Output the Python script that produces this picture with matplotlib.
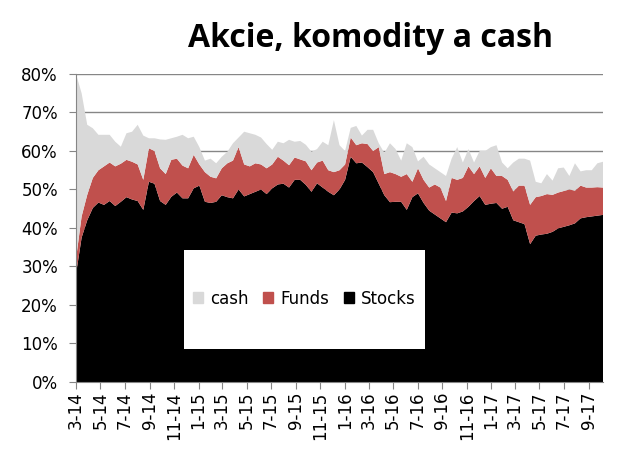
import numpy as np
import pandas as pd
import matplotlib
matplotlib.use("Agg")
import matplotlib.pyplot as plt
import matplotlib.dates as mdates
from matplotlib.patches import Rectangle, Patch
from matplotlib.ticker import FuncFormatter, MultipleLocator

# biweekly observations starting March 2014
dates = pd.date_range("2014-03-01", periods=95, freq="14D")

# upper edge of each band (%)
stocks_top = [28, 37.5, 42, 45.2, 46.6, 46, 47, 45.7, 46.8, 48, 47.4, 47, 44.7, 52, 51.5, 47, 46,
              48.1, 49.2, 47.7, 47.7, 50.3, 51, 46.8, 46.5, 46.8, 48.5, 48, 47.7, 50, 48.2, 48.8, 49.4,
              50, 48.8, 50.3, 51.3, 51.5, 50.5, 52.5, 52.5, 51.2, 49.4, 51.6, 50.5, 49.4, 48.5, 50, 52.5,
              58.5, 56.8, 57, 55.8, 54.5, 51.5, 48.5, 46.7, 46.8, 46.8, 44.7, 48, 49, 46.5, 44.5, 43.5,
              42.5, 41.5, 44, 43.8, 44.3, 45.5, 47, 48.3, 46, 46.3, 46.5, 45, 45.5, 42, 41.5, 41,
              35.8, 38, 38.3, 38.5, 39, 39.9, 40.3, 40.7, 41.2, 42.5, 42.8, 43, 43.2, 43.4]
funds_top = [32, 43, 48.6, 53, 55, 56, 57, 56, 56.7, 57.7, 57.2, 56.5, 52.5, 60.7, 60, 55.5, 54,
             57.7, 58, 56.2, 55.5, 59, 56.5, 54.5, 53.3, 52.9, 55.5, 56.8, 57.5, 61, 56.5, 56, 56.8,
             56.5, 55.5, 56.5, 58.5, 57.5, 56.3, 58.3, 57.8, 57.3, 55, 57, 57.5, 55, 54.5, 55, 56.5,
             63.5, 61.5, 62, 61.8, 60, 61, 54, 54.5, 54, 53.3, 54, 52, 55.5, 52.5, 50.5, 51.3,
             50.5, 47, 53, 52.5, 53, 56, 54, 56, 53, 55.5, 53.5, 53.5, 52.5, 49.5, 51, 51,
             46, 48, 48.3, 48.8, 48.6, 49.2, 49.6, 50, 49.7, 51, 50.5, 50.5, 50.6, 50.5]
cash_top = [80, 75, 66.8, 65.9, 64.2, 64.2, 64.2, 62.4, 61.1, 64.6, 65, 66.8, 64, 63.3, 63.3, 63, 62.9,
            63.3, 63.7, 64.2, 63.3, 63.7, 61, 57.5, 58, 56.8, 58.5, 59.8, 62, 63.5, 65, 64.6, 64.2,
            63.5, 61.8, 60.3, 62.4, 62, 62.9, 62.4, 62.6, 61.6, 59.8, 60.5, 62.4, 61.5, 68, 61.5, 60,
            66, 66.5, 64, 65.5, 65.5, 62, 59.5, 62, 60.5, 57.5, 62, 61, 57.3, 58.5, 56.5, 55.5,
            54.5, 53.5, 58, 61, 57, 60.5, 57, 60, 60, 61, 61.5, 57, 55.5, 57, 58, 58,
            57.5, 52, 51.6, 54, 52.3, 55.5, 55.7, 53.5, 56.8, 54.7, 55, 55, 56.8, 57.2]

stocks = np.array(stocks_top)
funds = np.array(funds_top) - stocks
cash = np.array(cash_top) - np.array(funds_top)

labels = ["Stocks", "Funds", "cash"]
colors = ["#000000", "#C0504D", "#D9D9D9"]
grid_c = "#868686"

fig = plt.figure(figsize=(6.34, 4.51), dpi=100)
ax = fig.add_axes([0.1199, 0.153, 0.8312, 0.683])

ax.stackplot(dates, stocks, funds, cash, colors=colors, linewidth=0, labels=labels)

ax.set_xlim(dates[0], dates[-1])
ax.set_ylim(0, 80)
ax.yaxis.set_major_locator(MultipleLocator(10))
ax.yaxis.set_major_formatter(FuncFormatter(lambda v, p: f"{v:.0f}%"))
ax.xaxis.set_major_locator(mdates.MonthLocator(bymonth=[1, 3, 5, 7, 9, 11]))
ax.xaxis.set_major_formatter(FuncFormatter(
    lambda v, p: f"{mdates.num2date(v).month}-{mdates.num2date(v).strftime('%y')}"))

ax.set_axisbelow(True)
ax.grid(axis="y", color=grid_c, linewidth=1)
for s in ["top", "right"]:
    ax.spines[s].set_visible(False)
for s in ["left", "bottom"]:
    ax.spines[s].set_color(grid_c)
ax.tick_params(axis="both", colors=grid_c, length=5, labelcolor="black")
ax.tick_params(axis="y", labelsize=12, pad=8)
ax.tick_params(axis="x", labelsize=12, labelrotation=90, pad=2)

# white legend box
ax.add_patch(Rectangle((0.205, 0.107), 0.457, 0.322, transform=ax.transAxes,
                       facecolor="white", edgecolor="none", zorder=5))
handles = [Patch(color=colors[2]), Patch(color=colors[1]), Patch(color=colors[0])]
leg = ax.legend(handles, ["cash", "Funds", "Stocks"], ncol=3, loc="center",
                bbox_to_anchor=(0.433, 0.271), frameon=False, fontsize=12,
                handlelength=0.6, handleheight=0.6, handletextpad=0.4,
                columnspacing=0.9)
leg.set_zorder(6)

fig.text(0.585, 0.896, "Akcie, komodity a cash", ha="center", va="baseline",
         fontsize=23, fontweight="bold", family="Open Sans")

fig.savefig("out.png", dpi=100)
